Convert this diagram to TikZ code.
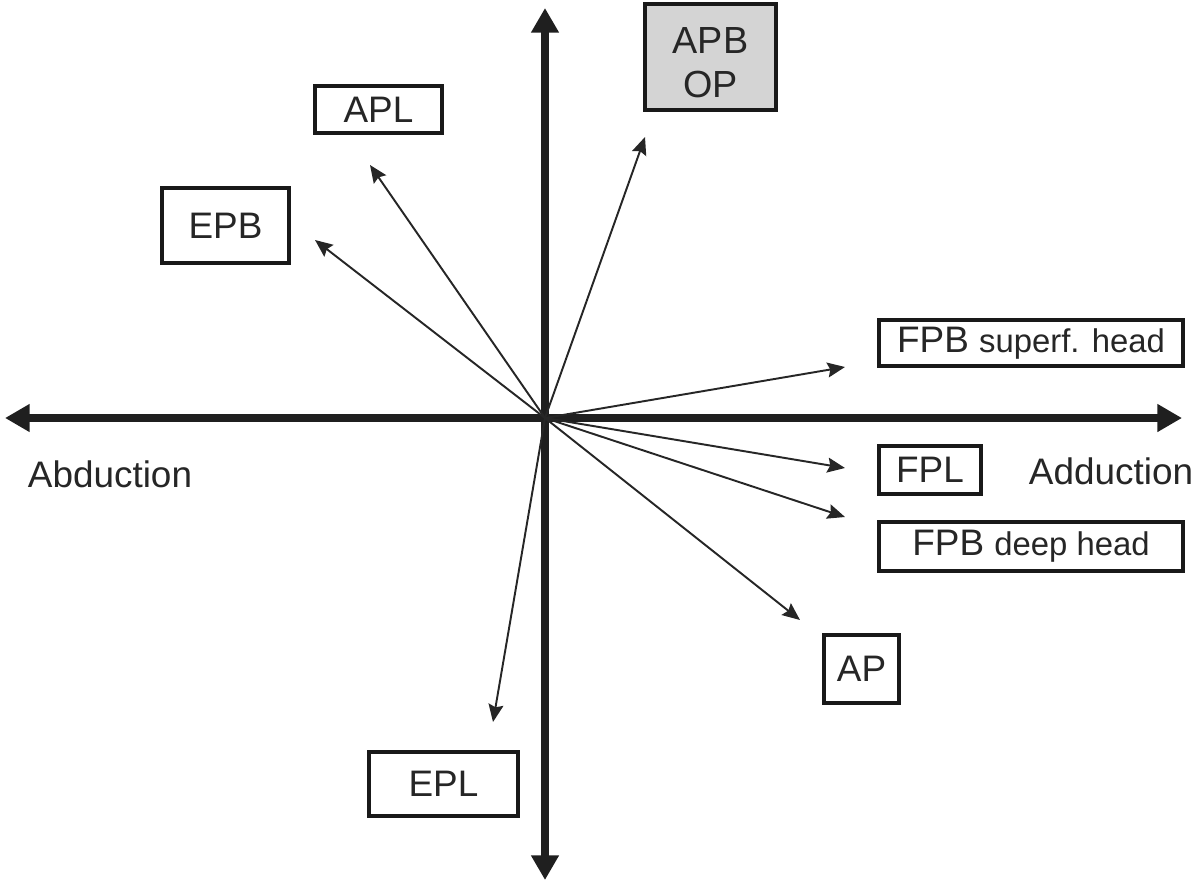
\documentclass[tikz,border=0pt]{standalone}
\usepackage{fontspec}
\setmainfont{Liberation Sans}
\usetikzlibrary{arrows.meta}
\newcommand{\smallpart}{\fontsize{18.7}{22}\selectfont}
\tikzset{
  box/.style={draw=black!90, line width=2.2pt, inner sep=0pt, font=\fontsize{21}{25}\selectfont, align=center, text=black!85},
  axis/.style={line width=4.6pt, draw=black!88, -{Triangle[length=14pt,width=15pt]}},
  vec/.style={line width=1.1pt, draw=black!85, -{Stealth[length=10pt,width=8.5pt,inset=1.5pt]}},
  lbl/.style={font=\fontsize{21}{25}\selectfont, text=black!85}
}
\begin{document}
\begin{tikzpicture}[x=0.02cm,y=-0.02cm]
\useasboundingbox (0,0) rectangle (1204,883);
\coordinate (O) at (545,418);
\coordinate (L) at (5,418);
\coordinate (R) at (1182,418);
\coordinate (T) at (545,8);
\coordinate (B) at (545,880);
\draw[axis] (O) -- (L);
\draw[axis] (O) -- (R);
\draw[axis] (O) -- (T);
\draw[axis] (O) -- (B);

\node[box, minimum width=127*0.02cm, minimum height=47*0.02cm] (apl) at (378.5,109.5) {APL};
\node[box, minimum width=127*0.02cm, minimum height=75*0.02cm] (epb) at (225.5,225.5) {EPB};
\node[box, fill=black!17, minimum width=131*0.02cm, minimum height=106*0.02cm] (apbop) at (710.5,57) {\parbox{2cm}{\centering\fontsize{21.5}{25}\selectfont\vspace*{6pt}APB\\[0pt]OP}};
\node[box, minimum width=304*0.02cm, minimum height=46*0.02cm] (fpbs) at (1031,343) {FPB {\smallpart superf. head}};
\node[box, minimum width=102*0.02cm, minimum height=48*0.02cm] (fpl) at (930,470) {FPL};
\node[box, minimum width=304*0.02cm, minimum height=49*0.02cm] (fpbd) at (1031,546.5) {FPB {\smallpart deep head}};
\node[box, minimum width=75*0.02cm, minimum height=68*0.02cm] (ap) at (861.5,669) {AP};
\node[box, minimum width=149*0.02cm, minimum height=64*0.02cm] (epl) at (443.5,784) {EPL};

\node[lbl] (abd) at (110,474) {Abduction};
\node[lbl] (add) at (1111,471) {Adduction};

\coordinate (tapl) at (370,165);
\coordinate (tepb) at (315,240);
\coordinate (tapb) at (645,137);
\coordinate (tfpbs) at (845,367);
\coordinate (tfpl) at (845,468);
\coordinate (tfpbd) at (845,517);
\coordinate (tap) at (800,620);
\coordinate (tepl) at (493,722);
\foreach \t in {tapl,tepb,tapb,tfpbs,tfpl,tfpbd,tap,tepl}
  \draw[vec] (O) -- (\t);
\end{tikzpicture}
\end{document}
